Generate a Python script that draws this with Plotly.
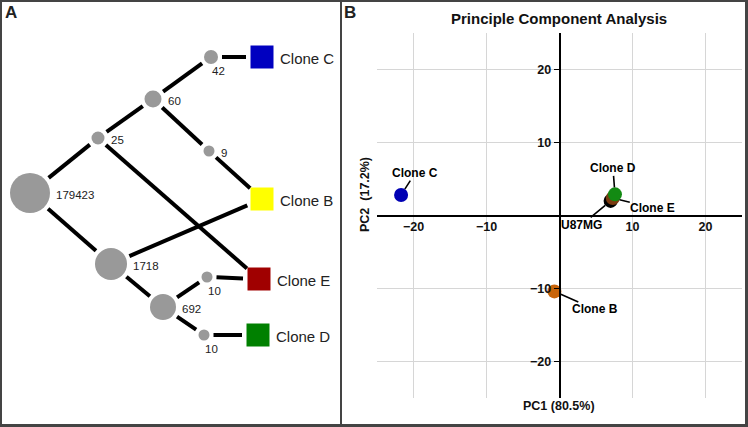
import plotly.graph_objects as go
import math

# ---------------- Panel A: clone tree ----------------
node_names = ["n179423", "n25", "n60", "n42", "n9", "n1718", "n692", "n10a", "n10b"]
node_labels = ["179423", "25", "60", "42", "9", "1718", "692", "10", "10"]
node_x = [30, 98, 153, 211, 209, 111, 163, 207, 204]
node_y = [193, 138, 99, 57, 151, 264, 307, 277, 335]
node_diam = [40, 13, 17, 14, 11, 32, 26, 11, 11]
label_below = [False, False, False, True, False, False, False, True, True]

clone_names = ["Clone C", "Clone B", "Clone E", "Clone D"]
clone_x = [262, 262, 259, 258]
clone_y = [57, 199, 279, 335]
clone_colors = ["#0000c0", "#ffff00", "#a00000", "#008000"]

edges = [("n179423", "n25"), ("n25", "n60"), ("n60", "n42"), ("n42", "Clone C"),
         ("n60", "n9"), ("n9", "Clone B"), ("n25", "Clone E"),
         ("n179423", "n1718"), ("n1718", "Clone B"), ("n1718", "n692"),
         ("n692", "n10a"), ("n10a", "Clone E"), ("n692", "n10b"), ("n10b", "Clone D")]

# ---------------- Panel B: PCA ----------------
pca_names = ["Clone C", "U87MG", "Clone E", "Clone D", "Clone B"]
pc1 = [-21.7, 7.0, 7.3, 7.6, -0.7]
pc2 = [2.8, 2.0, 2.4, 2.9, -10.4]
pca_colors = ["#0000b4", "#000000", "#7a3b10", "#138a13", "#c8640a"]
label_offsets = {"Clone C": (14, -22), "U87MG": (-29, 24), "Clone E": (40, 10),
                 "Clone D": (-2, -26), "Clone B": (41, 18)}
pc_ticks = [-20, -10, 10, 20]

W, H = 748, 427
fig = go.Figure()

pos = {}
rad = {}
for n, x, y, d in zip(node_names, node_x, node_y, node_diam):
    pos[n] = (x, y); rad[n] = d / 2
for n, x, y in zip(clone_names, clone_x, clone_y):
    pos[n] = (x, y); rad[n] = 12

gap = 4
ex, ey = [], []
for a, b in edges:
    (x1, y1), (x2, y2) = pos[a], pos[b]
    L = math.hypot(x2 - x1, y2 - y1)
    ux, uy = (x2 - x1) / L, (y2 - y1) / L
    sa = rad[a] + gap
    sb = rad[b] + gap
    ex += [x1 + ux * sa, x2 - ux * sb, None]
    ey += [y1 + uy * sa, y2 - uy * sb, None]

fig.add_trace(go.Scatter(x=ex, y=ey, mode="lines", line=dict(color="black", width=4),
                         xaxis="x2", yaxis="y2", hoverinfo="skip", showlegend=False))
fig.add_trace(go.Scatter(x=node_x, y=node_y, mode="markers",
                         marker=dict(size=node_diam, color="#999999", opacity=1, line=dict(width=0)),
                         xaxis="x2", yaxis="y2", showlegend=False))
fig.add_trace(go.Scatter(x=clone_x, y=clone_y, mode="markers",
                         marker=dict(symbol="square", size=23, color=clone_colors, opacity=1, line=dict(width=0)),
                         xaxis="x2", yaxis="y2", showlegend=False))

annos = []
for lab, x, y, d, below in zip(node_labels, node_x, node_y, node_diam, label_below):
    if below:
        annos.append(dict(x=x + 7, y=y + 14, text=lab, xref="x2", yref="y2", showarrow=False,
                          xanchor="center", yanchor="middle", font=dict(size=11.5, color="#222")))
    else:
        annos.append(dict(x=x + d / 2 + 4, y=y + 2, text=lab, xref="x2", yref="y2", showarrow=False,
                          xanchor="left", yanchor="middle", font=dict(size=11.5, color="#222")))
for lab, x, y in zip(clone_names, clone_x, clone_y):
    annos.append(dict(x=x + 16, y=y + 1, text=lab, xref="x2", yref="y2", showarrow=False,
                      xanchor="left", yanchor="middle", font=dict(size=15, color="#222")))

fig.add_trace(go.Scatter(x=pc1, y=pc2, mode="markers",
                         marker=dict(size=14, color=pca_colors, opacity=1, line=dict(width=0)),
                         showlegend=False))
for n, x, y in zip(pca_names, pc1, pc2):
    ax, ay = label_offsets[n]
    annos.append(dict(x=x, y=y, text="<b>%s</b>" % n, showarrow=True, arrowhead=0, arrowwidth=1.6,
                      arrowcolor="black", ax=ax, ay=ay, standoff=7,
                      font=dict(size=12, color="black"), borderpad=0))

annos += [
    dict(x=11 / W, y=1 - 12 / H, xref="paper", yref="paper", text="<b>A</b>", showarrow=False,
         font=dict(size=17, color="#222"), xanchor="center", yanchor="middle"),
    dict(x=350 / W, y=1 - 12 / H, xref="paper", yref="paper", text="<b>B</b>", showarrow=False,
         font=dict(size=17, color="#222"), xanchor="center", yanchor="middle"),
    dict(x=559 / W, y=1 - 18 / H, xref="paper", yref="paper", text="<b>Principle Component Analysis</b>",
         showarrow=False, font=dict(size=15, color="#111"), xanchor="center", yanchor="middle"),
    dict(x=559 / W, y=1 - 406 / H, xref="paper", yref="paper", text="<b>PC1 (80.5%)</b>",
         showarrow=False, font=dict(size=12.5, color="#111"), xanchor="center", yanchor="middle"),
    dict(x=365 / W, y=1 - 195 / H, xref="paper", yref="paper", text="<b>PC2  (17.2%)</b>",
         showarrow=False, textangle=-90, font=dict(size=12.5, color="#111"), xanchor="center", yanchor="middle"),
]

ydom = [1 - 398 / H, 1 - 33 / H]
xdom = [377 / W, 742 / W]
fig.update_layout(
    width=W, height=H, margin=dict(l=0, r=0, t=0, b=0),
    paper_bgcolor="white", plot_bgcolor="white",
    font=dict(family="Liberation Sans, Arial, sans-serif"),
    xaxis=dict(domain=xdom, range=[-25, 25], tickvals=pc_ticks, showgrid=True, gridcolor="#d6d6d6",
               gridwidth=1.2, zeroline=False, showline=True, linecolor="black", linewidth=1.5,
               anchor="free", position=sum(ydom) / 2, ticks="", tickfont=dict(size=12.5, color="#111", weight="bold")),
    yaxis=dict(domain=ydom, range=[-25, 25], tickvals=pc_ticks, showgrid=True, gridcolor="#d6d6d6",
               gridwidth=1.2, zeroline=False, showline=True, linecolor="black", linewidth=1.5,
               anchor="free", position=sum(xdom) / 2, ticks="outside", ticklen=5, tickcolor="black",
               tickfont=dict(size=12.5, color="#111", weight="bold")),
    xaxis2=dict(domain=[0, 341 / W], range=[0, 341], visible=False, fixedrange=True),
    yaxis2=dict(domain=[0, 1], range=[H, 0], visible=False, anchor="x2", fixedrange=True),
    annotations=annos,
    shapes=[
        dict(type="rect", xref="paper", yref="paper", x0=0.5 / W, x1=1 - 1.5 / W, y0=1.5 / H, y1=1 - 0.5 / H,
             line=dict(color="#444", width=3)),
        dict(type="line", xref="paper", yref="paper", x0=341 / W, x1=341 / W, y0=0, y1=1,
             line=dict(color="#444", width=2)),
    ],
)
fig.write_html("out.html", config={"displayModeBar": False},
               post_script="document.body.style.margin='0';document.body.style.overflow='hidden';")
